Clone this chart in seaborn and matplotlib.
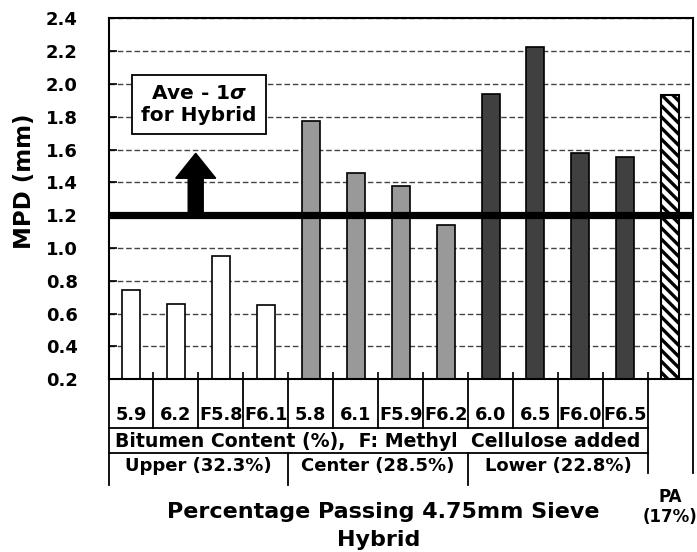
import matplotlib
matplotlib.use("Agg")
import matplotlib.pyplot as plt
import seaborn as sns
import pandas as pd
import numpy as np

# ---- data ----
categories = ["5.9", "6.2", "F5.8", "F6.1", "5.8", "6.1", "F5.9", "F6.2",
              "6.0", "6.5", "F6.0", "F6.5", "PA"]
groups = ["Upper"] * 4 + ["Center"] * 4 + ["Lower"] * 4 + ["PA"]
mpd = [0.745, 0.66, 0.95, 0.65, 1.775, 1.455, 1.38, 1.14,
       1.94, 2.225, 1.58, 1.555, 1.93]
yticks = [0.2, 0.4, 0.6, 0.8, 1.0, 1.2, 1.4, 1.6, 1.8, 2.0, 2.2, 2.4]
threshold = 1.2
group_names = ["Upper (32.3%)", "Center (28.5%)", "Lower (22.8%)"]
row2_label = "Bitumen Content (%),  F: Methyl  Cellulose added"
xlabel_lines = ["Percentage Passing 4.75mm Sieve", "Hybrid"]
pa_label = "PA\n(17%)"
box_label = "Ave - 1$\\sigma$\nfor Hybrid"
palette = {"Upper": "#ffffff", "Center": "#999999", "Lower": "#404040", "PA": "#ffffff"}

df = pd.DataFrame({"cat": categories, "group": groups, "mpd": mpd})

plt.rcParams["font.family"] = ["DejaVu Sans"]
plt.rcParams["font.weight"] = "bold"
plt.rcParams["hatch.linewidth"] = 2.4

fig = plt.figure(figsize=(6.97, 5.52), dpi=100)
ax = fig.add_axes([0.1557, 0.3129, 0.8382, 0.654])

sns.barplot(data=df, x="cat", y="mpd", hue="group", order=categories,
            palette=palette, dodge=False, width=0.4, edgecolor="black",
            linewidth=1.2, legend=False, ax=ax, zorder=2)

n = len(categories)
for p in ax.patches:
    cx = p.get_x() + p.get_width() / 2
    if abs(cx - (n - 1)) < 0.2:
        p.set_hatch("\\\\\\")
        p.set_edgecolor("black")
        p.set_linewidth(1.5)

ax.set_xlim(-0.5, n - 0.5)
ax.set_ylim(yticks[0], yticks[-1])
ax.set_yticks(yticks)
ax.set_yticklabels([f"{v:.1f}" for v in yticks])
ax.set_xticks([])
ax.set_xticks(np.arange(n + 1) - 0.5, minor=True)
ax.tick_params(axis="x", which="minor", direction="in", length=5, width=1.2, labelbottom=False)
ax.tick_params(axis="y", direction="in", length=6, width=1.2, pad=22, labelsize=13)
ax.set_xlabel("")
ax.set_ylabel("")
for s in ax.spines.values():
    s.set_linewidth(1.5)
    s.set_color("black")

ax.set_axisbelow(True)
ax.yaxis.grid(True, linestyle=(0, (4, 2)), color="#444444", linewidth=1.0)
ax.xaxis.grid(False)

ax.axhline(threshold, color="black", linewidth=5.2, zorder=4)

# arrow (up from threshold)
ax.arrow(1.44, threshold, 0, 0.377, width=0.334, head_width=0.89, head_length=0.152,
         length_includes_head=True, color="black", zorder=5)

ax.text(0.155, 0.762, box_label, transform=ax.transAxes, ha="center", va="center",
        fontsize=14.5, fontweight="bold", linespacing=1.2, zorder=6,
        bbox=dict(boxstyle="square,pad=0.45", fc="white", ec="black", lw=1.3))

# ---- table below axes ----
tr = ax.get_xaxis_transform()
r1 = -0.1357
r2 = -0.205
r3 = -0.2928
rpa = -0.2596
lw = 1.3
for k in range(n + 1):
    x = k - 0.5
    if k == 0:
        ax.plot([x, x], [0, r3], transform=tr, color="black", lw=lw, clip_on=False)
    elif k in (4, 8):
        ax.plot([x, x], [0, r1], transform=tr, color="black", lw=lw, clip_on=False)
        ax.plot([x, x], [r2, r3], transform=tr, color="black", lw=lw, clip_on=False)
    elif k in (12, 13):
        ax.plot([x, x], [0, rpa], transform=tr, color="black", lw=lw, clip_on=False)
    else:
        ax.plot([x, x], [0, r1], transform=tr, color="black", lw=lw, clip_on=False)
for yy in (r1, r2):
    ax.plot([-0.5, n - 1.5], [yy, yy], transform=tr, color="black", lw=lw, clip_on=False)

for i, c in enumerate(categories[:-1]):
    ax.text(i, -0.099, c, transform=tr, ha="center", va="center", fontsize=12.8,
            fontweight="bold")
ax.text((n - 2) / 2, -0.171, row2_label, transform=tr, ha="center", va="center",
        fontsize=13.6, fontweight="bold")
for j, g in enumerate(group_names):
    ax.text(4 * j + 1.5, -0.24, g, transform=tr, ha="center", va="center",
            fontsize=13, fontweight="bold")

ax.text(5.62, -0.3676, xlabel_lines[0], transform=tr, ha="center", va="center",
        fontsize=16, fontweight="bold")
ax.text(5.52, -0.445, xlabel_lines[1], transform=tr, ha="center", va="center",
        fontsize=16, fontweight="bold")
ax.text(n - 1, -0.354, pa_label, transform=tr, ha="center", va="center",
        fontsize=12, fontweight="bold", linespacing=1.2)

fig.text(24 / 697, 1 - 181 / 552, "MPD (mm)", rotation=90, ha="center", va="center",
         fontsize=16.5, fontweight="bold")

fig.savefig("out.png", dpi=100)
